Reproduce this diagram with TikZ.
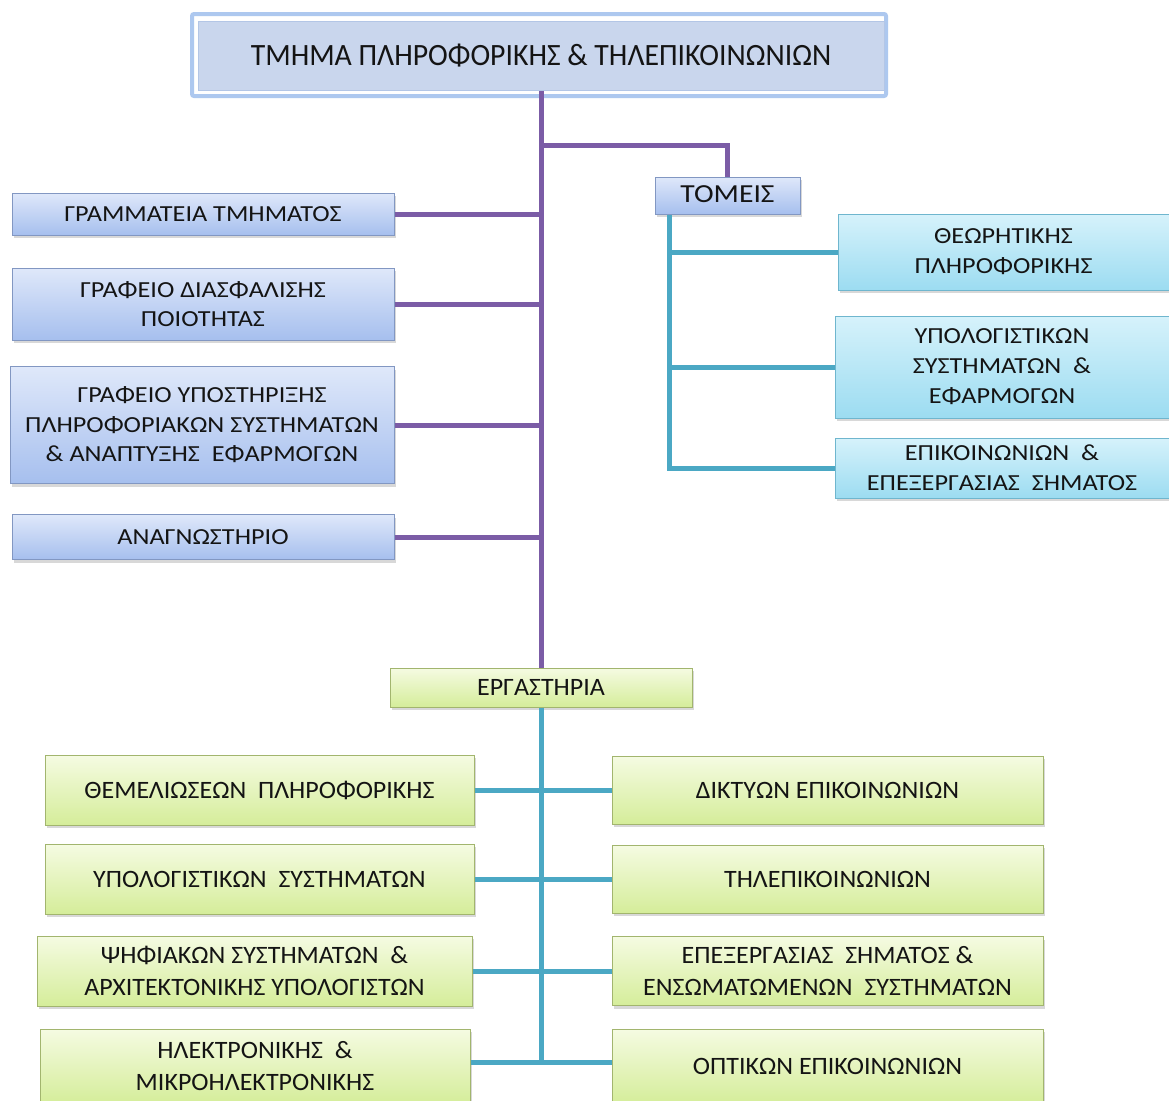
\documentclass[tikz,border=0pt]{standalone}
\usepackage{fontspec}
\setmainfont{Carlito}
\newfontfamily\titlefont[FakeStretch=0.96]{Carlito}
\newfontfamily\boxfont[FakeStretch=1.14]{Carlito}
\newfontfamily\labfont[FakeStretch=1.04]{Carlito}
\usetikzlibrary{shadows}
\definecolor{purp}{HTML}{7B5CA6}
\definecolor{tealc}{HTML}{4BA8C4}
\definecolor{txt}{HTML}{141414}
\definecolor{bluedraw}{HTML}{8297C2}
\definecolor{bluetop}{HTML}{DFE8FA}
\definecolor{bluebot}{HTML}{A6BFEE}
\definecolor{cyandraw}{HTML}{6FB6CE}
\definecolor{cyantop}{HTML}{D6F2FB}
\definecolor{cyanbot}{HTML}{9CDCF1}
\definecolor{greendraw}{HTML}{A2B56E}
\definecolor{greentop}{HTML}{F5FBE2}
\definecolor{greenbot}{HTML}{D5ED9A}
\definecolor{frameblue}{HTML}{ADC8EF}
\definecolor{titlefill}{HTML}{C9D6ED}
\definecolor{titledraw}{HTML}{B3C6E6}
\begin{document}
\begin{tikzpicture}[x=1pt,y=-1pt,
  every node/.style={inner sep=0pt, align=center, text=txt},
  box/.style={line width=1pt, drop shadow={shadow xshift=1.5pt, shadow yshift=-3pt, opacity=0.3}},
  bluebox/.style={box, draw=bluedraw, top color=bluetop, bottom color=bluebot, font=\boxfont\fontsize{23}{29.5}\selectfont},
  cyanbox/.style={box, draw=cyandraw, top color=cyantop, bottom color=cyanbot, font=\boxfont\fontsize{23}{30}\selectfont},
  greenbox/.style={box, draw=greendraw, top color=greentop, bottom color=greenbot, font=\labfont\fontsize{25}{32}\selectfont},
  purpline/.style={draw=purp, line width=5pt},
  tealline/.style={draw=tealc, line width=5pt},
]
\useasboundingbox (0,0) rectangle (1169,1100);
\clip (0,0) rectangle (1169,1100);
\fill[white] (0,0) rectangle (1169,1100);

% title
\node[draw=frameblue, line width=4pt, fill=white, rounded corners=2pt, minimum width=694pt, minimum height=82pt] (frame) at (539,55) {};
\node[fill=titlefill, draw=titledraw, line width=0.8pt, minimum width=686pt, minimum height=69pt, font=\titlefont\fontsize{31}{36}\selectfont] (title) at (541,56) {ΤΜΗΜΑ ΠΛΗΡΟΦΟΡΙΚΗΣ \& ΤΗΛΕΠΙΚΟΙΝΩΝΙΩΝ};

% left administrative boxes
\node[bluebox, minimum width=382pt, minimum height=42pt] (gram) at (203,214) {ΓΡΑΜΜΑΤΕΙΑ ΤΜΗΜΑΤΟΣ};
\node[bluebox, minimum width=382pt, minimum height=72pt] (diasf) at (203,304) {ΓΡΑΦΕΙΟ ΔΙΑΣΦΑΛΙΣΗΣ\\ΠΟΙΟΤΗΤΑΣ};
\node[bluebox, minimum width=384pt, minimum height=117pt] (ypost) at (202,425) {ΓΡΑΦΕΙΟ ΥΠΟΣΤΗΡΙΞΗΣ\\ΠΛΗΡΟΦΟΡΙΑΚΩΝ ΣΥΣΤΗΜΑΤΩΝ\\\& ΑΝΑΠΤΥΞΗΣ\ \ ΕΦΑΡΜΟΓΩΝ};
\node[bluebox, minimum width=382pt, minimum height=45pt] (anagn) at (203,537) {ΑΝΑΓΝΩΣΤΗΡΙΟ};

% tomeis
\node[bluebox, font=\boxfont\fontsize{26}{30}\selectfont, minimum width=145pt, minimum height=37pt] (tomeis) at (727.5,195.5) {\raisebox{3pt}{ΤΟΜΕΙΣ}};
\node[cyanbox, minimum width=331pt, minimum height=76pt] (theo) at (1003.5,252) {ΘΕΩΡΗΤΙΚΗΣ\\ΠΛΗΡΟΦΟΡΙΚΗΣ};
\node[cyanbox, minimum width=334pt, minimum height=102pt] (ypol) at (1002,367) {ΥΠΟΛΟΓΙΣΤΙΚΩΝ\\ΣΥΣΤΗΜΑΤΩΝ\ \ \&\\ΕΦΑΡΜΟΓΩΝ};
\node[cyanbox, minimum width=334pt, minimum height=60pt] (epik) at (1002,468) {ΕΠΙΚΟΙΝΩΝΙΩΝ\ \ \&\\ΕΠΕΞΕΡΓΑΣΙΑΣ\ \ ΣΗΜΑΤΟΣ};

% labs
\node[greenbox, minimum width=302pt, minimum height=39pt] (erg) at (541,687.5) {ΕΡΓΑΣΤΗΡΙΑ};
\node[greenbox, minimum width=429pt, minimum height=70pt] (lab1) at (259.5,790) {ΘΕΜΕΛΙΩΣΕΩΝ\ \ ΠΛΗΡΟΦΟΡΙΚΗΣ};
\node[greenbox, minimum width=429pt, minimum height=70pt] (lab2) at (259.5,879) {ΥΠΟΛΟΓΙΣΤΙΚΩΝ\ \ ΣΥΣΤΗΜΑΤΩΝ};
\node[greenbox, minimum width=435pt, minimum height=70pt] (lab3) at (254.5,971) {ΨΗΦΙΑΚΩΝ ΣΥΣΤΗΜΑΤΩΝ\ \ \&\\ΑΡΧΙΤΕΚΤΟΝΙΚΗΣ ΥΠΟΛΟΓΙΣΤΩΝ};
\node[greenbox, minimum width=430pt, minimum height=74pt] (lab4) at (255,1066) {ΗΛΕΚΤΡΟΝΙΚΗΣ\ \ \&\\ΜΙΚΡΟΗΛΕΚΤΡΟΝΙΚΗΣ};
\node[greenbox, minimum width=431pt, minimum height=68pt] (lab5) at (827.5,790) {ΔΙΚΤΥΩΝ ΕΠΙΚΟΙΝΩΝΙΩΝ};
\node[greenbox, minimum width=431pt, minimum height=68pt] (lab6) at (827.5,879) {ΤΗΛΕΠΙΚΟΙΝΩΝΙΩΝ};
\node[greenbox, minimum width=431pt, minimum height=69pt] (lab7) at (827.5,971) {ΕΠΕΞΕΡΓΑΣΙΑΣ\ \ ΣΗΜΑΤΟΣ \&\\ΕΝΣΩΜΑΤΩΜΕΝΩΝ\ \ ΣΥΣΤΗΜΑΤΩΝ};
\node[greenbox, minimum width=431pt, minimum height=74pt] (lab8) at (827.5,1066) {ΟΠΤΙΚΩΝ ΕΠΙΚΟΙΝΩΝΙΩΝ};

% purple connectors
\coordinate (j1) at (541,145);
\draw[purpline] (title.south) -- (erg.north);
\draw[purpline] (j1) -| (tomeis.north);
\foreach \n in {gram,diasf,ypost,anagn}
  \draw[purpline] (\n.east) -- (\n.east -| erg.north);

% teal connectors (tomeis)
\coordinate (tv) at ([xshift=15pt]tomeis.south west);
\draw[tealline] (tv) |- (epik.west);
\draw[tealline] (tv |- theo.west) -- (theo.west);
\draw[tealline] (tv |- ypol.west) -- (ypol.west);

% teal connectors (labs)
\coordinate (lb) at (541,1062);
\draw[tealline] (erg.south) -- (lb);
\draw[tealline] (lab1.east) -- (lab5.west);
\draw[tealline] (lab2.east) -- (lab6.west);
\draw[tealline] (lab3.east) -- (lab7.west);
\draw[tealline] (lab4.east |- lb) -- (lab8.west |- lb);
\end{tikzpicture}
\end{document}
